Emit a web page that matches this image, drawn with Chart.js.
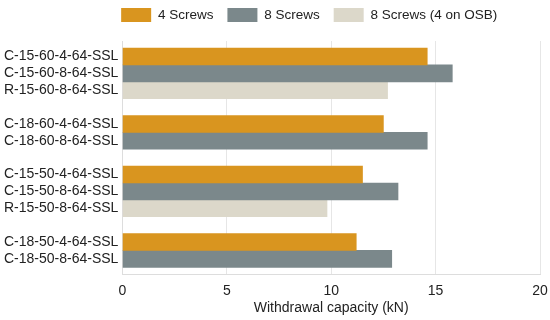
<!DOCTYPE html>
<html>
<head>
<meta charset="utf-8">
<script src="https://cdn.jsdelivr.net/npm/chart.js@4"></script>
<style>
  html, body { margin: 0; padding: 0; background: #fff; }
  #wrap { width: 550px; height: 320px; }
</style>
</head>
<body>
<div id="wrap"><canvas id="withdrawalChart"></canvas></div>
<script>
//rows from top to bottom, '' = blank spacer row between groups
const rows = [
    'C-15-60-4-64-SSL', 'C-15-60-8-64-SSL', 'R-15-60-8-64-SSL', '',
    'C-18-60-4-64-SSL', 'C-18-60-8-64-SSL', '',
    'C-15-50-4-64-SSL', 'C-15-50-8-64-SSL', 'R-15-50-8-64-SSL', '',
    'C-18-50-4-64-SSL', 'C-18-50-8-64-SSL'
];
//withdrawal capacity (kN), null where that row belongs to another series
const fourScrews  = [14.6, null, null, null, 12.5, null, null, 11.5, null, null, null, 11.2, null];
const eightScrews = [null, 15.8, null, null, null, 14.6, null, null, 13.2, null, null, null, 12.9];
const eightOsb    = [null, null, 12.7, null, null, null, null, null, null, 9.8, null, null, null];
const xTicks = [0, 5, 10, 15, 20];

Chart.defaults.font.family = "'Liberation Sans', Arial, sans-serif";
Chart.defaults.color = '#222';

//turn a value list into {x, y} points, y = row index
const toPoints = vals => vals.map((v, i) => ({x: v, y: i})).filter(p => p.x !== null);

const barStyle = {grouped: false, barPercentage: 1, categoryPercentage: 1, borderWidth: 0};

//legend nudge: a bit more room under it and moved left like the original
const legendTweak = {
    id: 'legendTweak',
    beforeInit(chart) {
        const fit = chart.legend.fit;
        chart.legend.fit = function() {
            fit.call(this);
            this.height += 9;
        };
    },
    afterLayout(chart) {
        chart.legend.left -= 22;
        chart.legend.right -= 22;
    }
};

const ctx = document.getElementById('withdrawalChart');
const withdrawalChart = new Chart(ctx, {
    type: 'bar',
    data: {
        datasets: [
            {label: '4 Screws', data: toPoints(fourScrews), backgroundColor: '#d9951f', ...barStyle},
            {label: '8 Screws', data: toPoints(eightScrews), backgroundColor: '#7b888b', ...barStyle},
            {label: '8 Screws (4 on OSB)', data: toPoints(eightOsb), backgroundColor: '#dcd8ca', ...barStyle}
        ]
    },
    options: {
        indexAxis: 'y',
        responsive: true,
        maintainAspectRatio: false,
        animation: false,
        layout: {padding: {left: 0, right: 0, top: -6, bottom: 3}},
        scales: {
            y: {
                type: 'linear',
                offset: false,
                reverse: true, //first row on top
                min: -0.92,
                max: 12.92,
                afterBuildTicks: scale => { scale.ticks = rows.map((r, i) => ({value: i})); },
                grid: {display: false, drawTicks: false, offset: false},
                border: {color: '#dddddd'},
                ticks: {
                    autoSkip: false,
                    padding: 4,
                    font: {size: 14},
                    color: '#222',
                    callback: v => rows[v]
                }
            },
            x: {
                min: 0,
                max: 20,
                afterBuildTicks: scale => { scale.ticks = xTicks.map(v => ({value: v})); },
                afterFit: scale => { scale.paddingRight = 10; }, //only room for half of the "20"
                grid: {color: '#e6e6e6', drawTicks: false},
                border: {color: '#dddddd'},
                ticks: {padding: 8, font: {size: 14}, color: '#222'},
                title: {
                    display: true,
                    text: 'Withdrawal capacity (kN)',
                    font: {size: 14},
                    color: '#222',
                    padding: {top: -7, bottom: 0}
                }
            }
        },
        plugins: {
            legend: {
                position: 'top',
                fullSize: false,
                labels: {
                    boxWidth: 30,
                    boxHeight: 14,
                    padding: 14,
                    font: {size: 13.5},
                    color: '#222'
                }
            },
            tooltip: {enabled: false}
        }
    },
    plugins: [legendTweak]
});
</script>
</body>
</html>
